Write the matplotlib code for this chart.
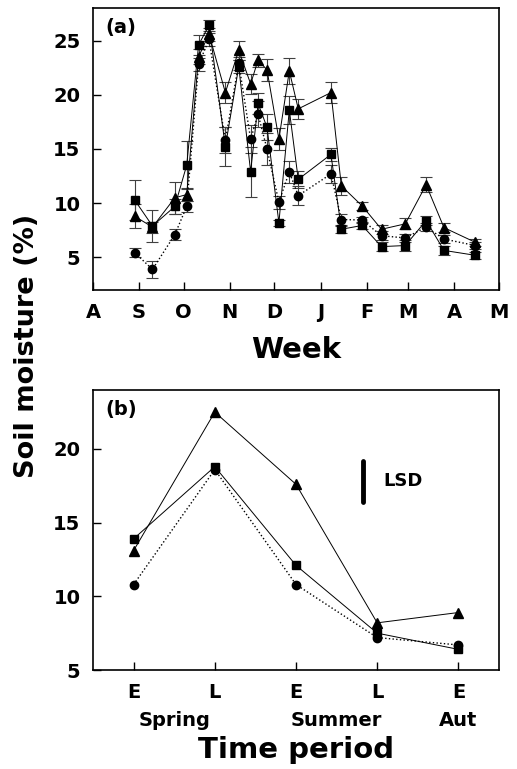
import matplotlib
matplotlib.use("Agg")
import matplotlib.pyplot as plt
from matplotlib.transforms import blended_transform_factory

plt.rcParams['font.family'] = ['DejaVu Sans']
plt.rcParams['font.weight'] = 'bold'

# ---------------- Panel (a) data: days since 1 August ----------------
days = [28, 40, 55, 63, 71, 78, 89, 98, 106, 111, 117, 125, 132, 138,
        160, 167, 181, 194, 210, 224, 236, 257]
tri_a = [8.8, 7.8, 10.5, 10.8, 23.5, 25.6, 20.2, 24.1, 21.0, 23.2, 22.3, 15.9,
         22.2, 18.7, 20.2, 11.6, 9.75, 7.6, 8.1, 11.7, 7.75, 6.4]
tri_a_err = [1.1, 0.5, 1.5, 0.6, 0.7, 0.6, 1.0, 0.9, 0.9, 0.6, 1.0, 1.0,
             1.2, 0.9, 1.0, 0.8, 0.4, 0.4, 0.5, 0.7, 0.4, 0.3]
sq_a = [10.3, 7.9, 9.7, 13.5, 24.6, 26.4, 15.2, 22.6, 12.9, 19.2, 17.0, 8.2,
        18.6, 12.2, 14.5, 7.6, 7.95, 6.0, 6.1, 8.4, 5.65, 5.2]
sq_a_err = [1.8, 1.5, 0.7, 2.2, 0.9, 0.5, 1.8, 0.6, 2.3, 1.0, 1.2, 0.3,
            1.3, 0.8, 0.6, 0.3, 0.3, 0.4, 0.5, 0.4, 0.4, 0.3]
cir_a = [5.45, 3.9, 7.1, 9.7, 22.8, 25.1, 15.8, 22.9, 15.9, 18.2, 15.0, 10.1,
         12.9, 10.7, 12.7, 8.5, 8.45, 7.0, 6.8, 7.8, 6.7, 6.1]
cir_a_err = [0.4, 0.8, 0.5, 0.5, 0.6, 0.6, 1.2, 0.6, 1.3, 1.2, 1.5, 0.6,
             1.0, 0.9, 0.8, 0.5, 0.3, 0.4, 0.4, 0.4, 0.4, 0.3]
month_ticks = [0, 31, 61, 92, 122, 153, 184, 212, 243, 273]
month_labels = ['A', 'S', 'O', 'N', 'D', 'J', 'F', 'M', 'A', 'M']

# ---------------- Panel (b) data ----------------
periods = [1, 2, 3, 4, 5]
period_labels = ['E', 'L', 'E', 'L', 'E']
season_labels = ['Spring', 'Summer', 'Aut']
season_pos = [1.5, 3.5, 5]
tri_b = [13.1, 22.5, 17.6, 8.2, 8.9]
sq_b = [13.9, 18.8, 12.1, 7.5, 6.4]
cir_b = [10.8, 18.6, 10.8, 7.2, 6.7]
lsd_x = 3.83
lsd_range = [16.4, 19.2]

W, H = 517, 769
fig = plt.figure(figsize=(W / 100, H / 100), dpi=100)

def rect(l, t, r, b):
    return [l / W, 1 - b / H, (r - l) / W, (b - t) / H]

axa = fig.add_axes(rect(93, 8, 499, 290))
axb = fig.add_axes(rect(93, 390, 499, 670))

ekw = dict(ecolor='0.25', elinewidth=0.8, capsize=4.5, capthick=0.8)
axa.errorbar(days, sq_a, yerr=sq_a_err, fmt='-', color='black', lw=0.7,
             marker='s', ms=6, zorder=3, **ekw)
axa.errorbar(days, tri_a, yerr=tri_a_err, fmt='-', color='black', lw=0.7,
             marker='^', ms=7.5, zorder=3, **ekw)
axa.errorbar(days, cir_a, yerr=cir_a_err, fmt=':', color='black', lw=1.0,
             marker='o', ms=6, zorder=3, **ekw)

axa.set_xlim(0, 273)
axa.set_ylim(2, 28)
axa.set_xticks(month_ticks)
axa.set_xticklabels(month_labels)
axa.set_yticks([5, 10, 15, 20, 25])
axa.text(12 / 406, 1 - 10 / 282, '(a)', transform=axa.transAxes,
         ha='left', va='top', fontsize=14, fontweight='bold')
fig.text(296 / W, 1 - 350 / H, 'Week', ha='center', va='center',
         fontsize=21, fontweight='bold')

axb.plot(periods, tri_b, '-', color='black', lw=0.7, marker='^', ms=7.5)
axb.plot(periods, sq_b, '-', color='black', lw=0.7, marker='s', ms=6)
axb.plot(periods, cir_b, ':', color='black', lw=1.0, marker='o', ms=6)
axb.plot([lsd_x, lsd_x], lsd_range, '-', color='black', lw=3.5,
         solid_capstyle='round')
axb.text(lsd_x + 0.24, sum(lsd_range) / 2, 'LSD', ha='left', va='center',
         fontsize=13, fontweight='bold')
axb.set_xlim(0.5, 5.5)
axb.set_ylim(5, 24)
axb.set_xticks(periods)
axb.set_xticklabels(period_labels)
axb.set_yticks([5, 10, 15, 20])
axb.text(12 / 406, 1 - 10 / 280, '(b)', transform=axb.transAxes,
         ha='left', va='top', fontsize=14, fontweight='bold')
tr = blended_transform_factory(axb.transData, fig.transFigure)
for lab, pos in zip(season_labels, season_pos):
    axb.text(pos, 1 - 720 / H, lab, transform=tr, ha='center', va='center',
             fontsize=14, fontweight='bold')
fig.text(296 / W, 1 - 750 / H, 'Time period', ha='center', va='center',
         fontsize=21, fontweight='bold')

for ax in (axa, axb):
    ax.tick_params(direction='in', length=6, width=1, labelsize=14, pad=9)
    for lab in ax.get_xticklabels() + ax.get_yticklabels():
        lab.set_fontweight('bold')
    for s in ax.spines.values():
        s.set_linewidth(1.2)

fig.text(27 / W, 1 - 346 / H, 'Soil moisture (%)', rotation=90,
         ha='center', va='center', fontsize=19.5, fontweight='bold')

fig.savefig('out.png', dpi=100)
